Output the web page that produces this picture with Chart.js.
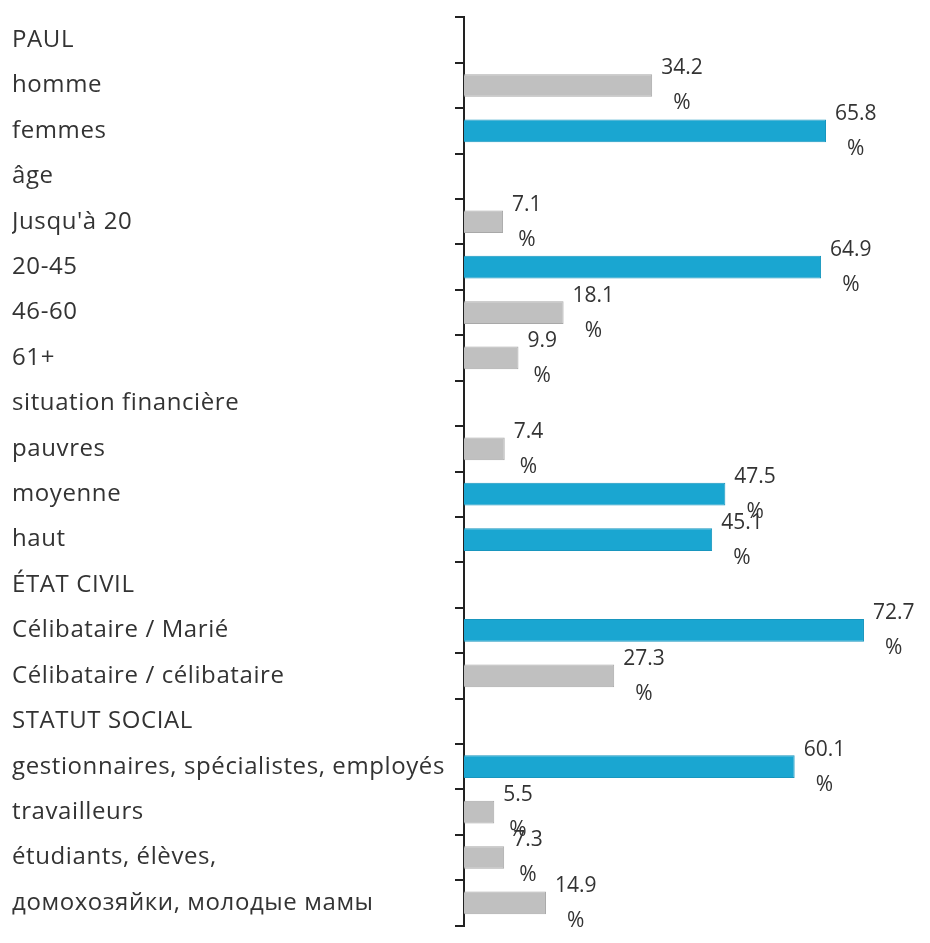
<!DOCTYPE html>
<html>
<head>
<meta charset="utf-8">
<script src="https://cdn.jsdelivr.net/npm/chart.js@4.4.0/dist/chart.umd.min.js"></script>
<style>
  html, body { margin: 0; padding: 0; background: #fff; }
  #wrap { width: 930px; height: 943px; }
</style>
</head>
<body>
<div id="wrap"><canvas id="myChart"></canvas></div>
<script>
// catégories de l'axe vertical
var categories = [
    'PAUL', 'homme', 'femmes',
    'âge', "Jusqu'à 20", '20-45', '46-60', '61+',
    'situation financière', 'pauvres', 'moyenne', 'haut',
    'ÉTAT CIVIL', 'Célibataire / Marié', 'Célibataire / célibataire',
    'STATUT SOCIAL', 'gestionnaires, spécialistes, employés', 'travailleurs',
    'étudiants, élèves,', 'домохозяйки, молодые мамы'
];
// pourcentages (null = ligne de titre)
var values = [
    null, 34.2, 65.8,
    null, 7.1, 64.9, 18.1, 9.9,
    null, 7.4, 47.5, 45.1,
    null, 72.7, 27.3,
    null, 60.1, 5.5, 7.3, 14.9
];

var blue = '#1AA6D1';
var grey = '#C0C0C0';
var fontFamily = '"Open Sans", "Noto Sans", sans-serif';
var fontSize = 24;
var labelSize = 21;

var bgColors = values.map(v => (v !== null && v >= 40) ? blue : grey);
var bdColors = values.map(v => (v !== null && v >= 40) ? '#1896BE' : '#A8A8A8');

// un peu d'espacement des lettres pour les libellés de l'axe
const spacingPlugin = {
    id: 'spacing',
    beforeDraw(chart) { chart.ctx.letterSpacing = '0.6px'; },
    afterDraw(chart) { chart.ctx.letterSpacing = '0px'; }
};

// étiquettes "xx.x" / "%" en bout de barre
const labelPlugin = {
    id: 'pctLabels',
    afterDatasetsDraw(chart) {
        const ctx = chart.ctx;
        const meta = chart.getDatasetMeta(0);
        ctx.save();
        ctx.letterSpacing = '0px';
        ctx.font = labelSize + 'px ' + fontFamily;
        ctx.fillStyle = '#333';
        ctx.textAlign = 'center';
        ctx.textBaseline = 'middle';
        meta.data.forEach((bar, i) => {
            if (values[i] === null) return;
            const txt = values[i].toFixed(1);
            const w = ctx.measureText(txt).width;
            const cx = bar.x + 9 + w / 2;
            ctx.fillText(txt, cx, bar.y - 17);
            ctx.fillText('%', cx, bar.y + 18);
        });
        ctx.restore();
    }
};

const ctx1 = document.getElementById('myChart');
const chart1 = new Chart(ctx1, {
    type: 'bar',
    data: {
        labels: categories,
        datasets: [{
            data: values,
            backgroundColor: bgColors,
            borderColor: bdColors,
            borderWidth: 1,
            categoryPercentage: 1,
            barPercentage: 0.5
        }]
    },
    options: {
        indexAxis: 'y',
        responsive: true,
        maintainAspectRatio: false,
        animation: false,
        layout: { padding: { top: 13, bottom: 8, left: 12, right: 0 } },
        plugins: {
            legend: { display: false },
            tooltip: { enabled: false }
        },
        scales: {
            x: {
                display: false,
                min: 0,
                max: 84.7
            },
            y: {
                afterFit: function (scale) { scale.width = 452; },
                border: { color: '#222', width: 2 },
                grid: {
                    drawOnChartArea: false,
                    drawTicks: true,
                    tickLength: 9,
                    color: '#222',
                    lineWidth: 2
                },
                ticks: {
                    crossAlign: 'far',
                    color: '#333',
                    font: { family: fontFamily, size: fontSize }
                }
            }
        }
    },
    plugins: [spacingPlugin, labelPlugin]
});
</script>
</body>
</html>
